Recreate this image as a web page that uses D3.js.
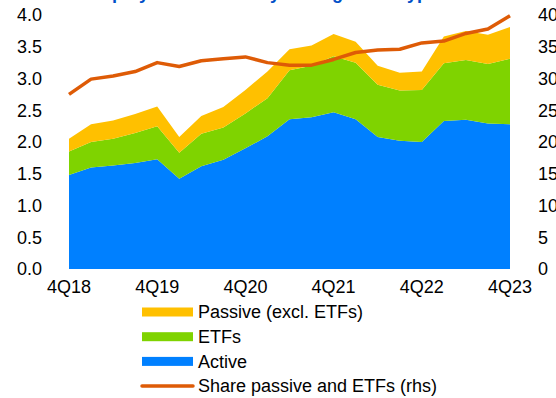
<!DOCTYPE html>
<html>
<head>
<meta charset="utf-8">
<script src="https://cdn.jsdelivr.net/npm/d3@7"></script>
<style>
  body { margin: 0; background: #fff; }
  svg { display: block; font-family: "Liberation Sans", Arial, sans-serif; }
</style>
</head>
<body>
<div id="chart"></div>
<script>
const quarters = ["4Q18","1Q19","2Q19","3Q19","4Q19","1Q20","2Q20","3Q20","4Q20","1Q21","2Q21","3Q21","4Q21","1Q22","2Q22","3Q22","4Q22","1Q23","2Q23","3Q23","4Q23"];
const tickQuarters = ["4Q18","4Q19","4Q20","4Q21","4Q22","4Q23"];

// EUR trillions, stacked
const active = [1.48,1.60,1.63,1.67,1.73,1.42,1.62,1.72,1.90,2.09,2.36,2.39,2.47,2.36,2.08,2.02,2.00,2.33,2.35,2.29,2.28];
const etfs = [0.37,0.40,0.42,0.47,0.52,0.41,0.51,0.51,0.55,0.60,0.77,0.81,0.88,0.89,0.82,0.79,0.82,0.91,0.94,0.94,1.03];
const passive = [0.20,0.28,0.29,0.30,0.31,0.25,0.28,0.32,0.37,0.42,0.33,0.32,0.35,0.33,0.30,0.28,0.29,0.42,0.46,0.46,0.50];
// share passive and ETFs, % (rhs)
const share = [27.5,29.9,30.4,31.1,32.5,31.9,32.8,33.1,33.4,32.5,32.1,32.1,33.0,34.1,34.5,34.6,35.6,35.9,37.1,37.8,39.9];

const leftTicks = [0,0.5,1,1.5,2,2.5,3,3.5,4];
const rightTicks = [0,5,10,15,20,25,30,35,40];

const W = 556, H = 398;
const svg = d3.select("#chart").append("svg").attr("width", W).attr("height", H);

// partial title, cut off at the top
svg.append("text")
  .attr("x", 8).attr("y", -1)
  .attr("fill", "#0050c8")
  .attr("font-weight", "bold")
  .attr("font-size", 18)
  .text("Euro area equity fund assets by management type");

const x = d3.scalePoint().domain(quarters).range([69, 510]);
const yL = d3.scaleLinear().domain([0, 4]).range([269, 15]);
const yR = d3.scaleLinear().domain([0, 40]).range([269, 15]);

const rows = quarters.map((q, i) => ({ q, active: active[i], etfs: etfs[i], passive: passive[i] }));
const keys = ["active", "etfs", "passive"];
const colors = { active: "#0080ff", etfs: "#7fd300", passive: "#ffc000" };
const stack = d3.stack().keys(keys)(rows);

const area = d3.area()
  .x(d => x(d.data.q))
  .y0(d => yL(d[0]))
  .y1(d => yL(d[1]));

svg.append("g").selectAll("path").data(stack).enter().append("path")
  .attr("d", area)
  .attr("fill", d => colors[d.key]);

// share line
svg.append("path")
  .datum(share)
  .attr("fill", "none")
  .attr("stroke", "#de5b06")
  .attr("stroke-width", 3.5)
  .attr("stroke-linejoin", "round")
  .attr("d", d3.line().x((d, i) => x(quarters[i])).y(d => yR(d)));

// left axis
svg.append("g").selectAll("text").data(leftTicks).enter().append("text")
  .attr("x", 42).attr("y", d => yL(d)).attr("dy", "0.35em")
  .attr("text-anchor", "end").attr("font-size", 18).attr("fill", "#000")
  .text(d => d3.format(".1f")(d));

// right axis
svg.append("g").selectAll("text").data(rightTicks).enter().append("text")
  .attr("x", 538).attr("y", d => yR(d)).attr("dy", "0.35em")
  .attr("text-anchor", "start").attr("font-size", 18).attr("fill", "#000")
  .text(d => d);

// x axis labels
svg.append("g").selectAll("text").data(tickQuarters).enter().append("text")
  .attr("x", d => x(d)).attr("y", 293)
  .attr("text-anchor", "middle").attr("font-size", 18).attr("fill", "#000")
  .text(d => d);

// legend
const legendItems = [
  { label: "Passive (excl. ETFs)", color: colors.passive, type: "box" },
  { label: "ETFs", color: colors.etfs, type: "box" },
  { label: "Active", color: colors.active, type: "box" },
  { label: "Share passive and ETFs (rhs)", color: "#de5b06", type: "line" }
];
const lg = svg.append("g").selectAll("g").data(legendItems).enter().append("g")
  .attr("transform", (d, i) => "translate(0," + (312 + i * 24.7) + ")");
lg.filter(d => d.type === "box").append("rect")
  .attr("x", 142).attr("y", -4.5).attr("width", 51).attr("height", 9)
  .attr("fill", d => d.color);
lg.filter(d => d.type === "line").append("line")
  .attr("x1", 142).attr("x2", 193).attr("y1", 0).attr("y2", 0)
  .attr("stroke", d => d.color).attr("stroke-width", 3.5).attr("stroke-linecap", "round");
lg.append("text")
  .attr("x", 198).attr("y", 0).attr("dy", "0.35em")
  .attr("font-size", 18).attr("fill", "#000")
  .text(d => d.label);
</script>
</body>
</html>
